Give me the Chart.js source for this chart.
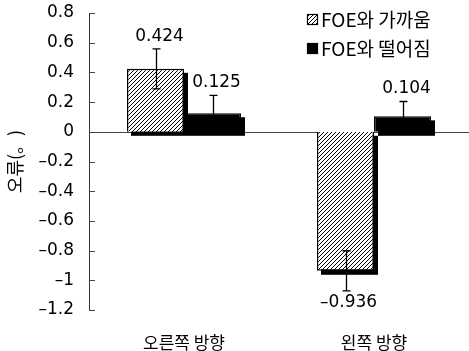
<!DOCTYPE html>
<html>
<head>
<meta charset="utf-8">
<script src="https://cdn.jsdelivr.net/npm/chart.js@4/dist/chart.umd.min.js"></script>
<style>
html,body{margin:0;padding:0;background:#fff;}
#wrap{width:469px;height:351px;position:relative;}
</style>
</head>
<body>
<div id="wrap"><canvas id="c" width="469" height="351"></canvas></div>
<script>
const categories = ['오른쪽 방향', '왼쪽 방향'];
const seriesLabels = ['FOE와 가까움', 'FOE와 떨어짐'];
const nearValues = [0.424, -0.936];
const farValues = [0.125, 0.104];
const nearErrors = [0.135, 0.135];
const farErrors = [0.12, 0.10];
const yMin = -1.2, yMax = 0.8, yStep = 0.2;
const yTitle = '오류(。)';

function makeHatch() {
  const s = 4;
  const c = document.createElement('canvas');
  c.width = s; c.height = s;
  const g = c.getContext('2d');
  g.fillStyle = '#fff';
  g.fillRect(0, 0, s, s);
  g.strokeStyle = '#000';
  g.lineWidth = 1;
  g.beginPath();
  g.moveTo(-1, s + 1); g.lineTo(s + 1, -1);
  g.moveTo(-1, 1); g.lineTo(1, -1);
  g.moveTo(s - 1, s + 1); g.lineTo(s + 1, s - 1);
  g.stroke();
  return g.createPattern(c, 'repeat');
}
const hatch = makeHatch();
const errorSets = [nearErrors, farErrors];

function fmt(v) {
  const n = Number(v.toFixed(3));
  return (n < 0 ? '–' : '') + String(Math.abs(n));
}

const decoPlugin = {
  id: 'deco',
  beforeDatasetsDraw(chart) {
    const ctx = chart.ctx;
    const ys = chart.scales.y;
    const area = chart.chartArea;
    ctx.save();
    ctx.strokeStyle = '#444';
    ctx.lineWidth = 1;
    const y0 = Math.round(ys.getPixelForValue(0)) + 0.5;
    ctx.beginPath();
    ctx.moveTo(area.left, y0);
    ctx.lineTo(area.right, y0);
    ctx.stroke();
    ys.ticks.forEach(t => {
      const py = Math.round(ys.getPixelForValue(t.value)) + 0.5;
      ctx.beginPath();
      ctx.moveTo(area.left, py);
      ctx.lineTo(area.left + 6, py);
      ctx.stroke();
    });
    ctx.fillStyle = '#000';
    chart.data.datasets.forEach((ds, i) => {
      const meta = chart.getDatasetMeta(i);
      meta.data.forEach(el => {
        const p = el.getProps(['x', 'y', 'base', 'width'], true);
        const top = Math.min(p.y, p.base), bot = Math.max(p.y, p.base);
        ctx.fillRect(p.x - p.width / 2 + 4, top + 4, p.width, bot - top);
      });
    });
    ctx.restore();
  },
  afterDatasetsDraw(chart) {
    const ctx = chart.ctx;
    const ys = chart.scales.y;
    ctx.save();
    chart.data.datasets.forEach((ds, i) => {
      const meta = chart.getDatasetMeta(i);
      meta.data.forEach((el, j) => {
        const v = ds.data[j];
        const e = errorSets[i][j];
        const x = Math.round(el.x) + 0.5;
        const yHi = ys.getPixelForValue(v + e);
        const yLo = ys.getPixelForValue(v - e);
        ctx.strokeStyle = '#000';
        ctx.lineWidth = 1.3;
        ctx.beginPath();
        ctx.moveTo(x, yHi); ctx.lineTo(x, yLo);
        ctx.moveTo(x - 4, yHi); ctx.lineTo(x + 4, yHi);
        ctx.moveTo(x - 4, yLo); ctx.lineTo(x + 4, yLo);
        ctx.stroke();
        ctx.fillStyle = '#000';
        ctx.font = '17px "DejaVu Sans"';
        ctx.textAlign = 'center';
        if (v >= 0) {
          ctx.textBaseline = 'bottom';
          ctx.fillText(fmt(v), el.x + 4, yHi - 4);
        } else {
          ctx.textBaseline = 'top';
          ctx.fillText(fmt(v), el.x + 3, yLo + 3);
        }
      });
    });
    ctx.restore();
  },
  afterDraw(chart) {
    const ctx = chart.ctx;
    ctx.save();
    const lx = 307, ly = [14, 43];
    chart.data.datasets.forEach((ds, i) => {
      ctx.fillStyle = ds.backgroundColor;
      ctx.fillRect(lx, ly[i], 11, 11);
      ctx.strokeStyle = '#000';
      ctx.lineWidth = 1.2;
      ctx.strokeRect(lx + 0.5, ly[i] + 0.5, 10, 10);
      ctx.fillStyle = '#000';
      ctx.font = '19px "Noto Sans CJK KR"';
      ctx.textAlign = 'left';
      ctx.textBaseline = 'middle';
      ctx.fillText(ds.label, lx + 14, ly[i] + 6);
    });
    ctx.restore();
  }
};

new Chart(document.getElementById('c'), {
  type: 'bar',
  data: {
    labels: categories,
    datasets: [
      { label: seriesLabels[0], data: nearValues, backgroundColor: hatch, borderColor: '#000', borderWidth: 1.5 },
      { label: seriesLabels[1], data: farValues, backgroundColor: '#000', borderColor: '#000', borderWidth: 1.5 }
    ]
  },
  options: {
    responsive: false,
    animation: false,
    devicePixelRatio: 1,
    layout: { padding: { top: 13, right: 0, left: 0, bottom: 0 } },
    plugins: { legend: { display: false }, tooltip: { enabled: false } },
    datasets: { bar: { categoryPercentage: 0.6, barPercentage: 1.0 } },
    scales: {
      x: {
        grid: { display: false },
        border: { display: false },
        ticks: { color: '#000', font: { family: '"Noto Sans CJK KR"', size: 17 }, padding: 14 },
        afterFit(s) { s.height = 41; s.paddingLeft = 0; s.paddingRight = 0; }
      },
      y: {
        min: yMin, max: yMax,
        grid: { display: false, drawTicks: false },
        border: { display: true, color: '#333', width: 1 },
        ticks: { stepSize: yStep, color: '#000', font: { family: '"DejaVu Sans"', size: 17 }, padding: 15, callback: v => fmt(v) },
        title: { display: true, text: yTitle, color: '#000', font: { family: '"Noto Sans CJK KR"', size: 18 }, padding: { top: 4, bottom: 0 } },
        afterFit(s) { s.width = 89; s.paddingTop = 0; s.paddingBottom = 0; }
      }
    }
  },
  plugins: [decoPlugin]
});
</script>
</body>
</html>
